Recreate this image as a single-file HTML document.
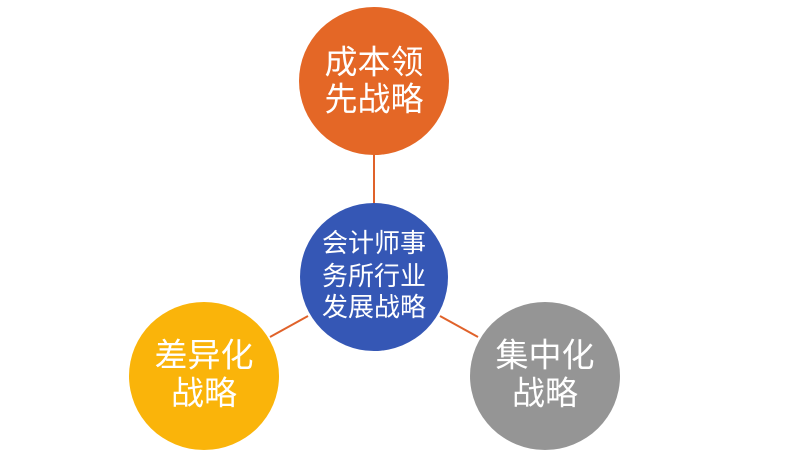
<!DOCTYPE html>
<html><head><meta charset="utf-8"><style>
html,body{margin:0;padding:0;background:#fff;}
body{width:800px;height:462px;overflow:hidden;position:relative;}
svg{position:absolute;left:0;top:0;}
text{font-family:"Liberation Sans","Noto Sans CJK SC",sans-serif;fill:#fff;text-anchor:middle;dominant-baseline:central;}
</style></head><body>
<svg width="800" height="462" viewBox="0 0 800 462">
<g stroke="#E0622A" stroke-width="2">
<line x1="374" y1="154" x2="374" y2="204"/>
<line x1="308" y1="316" x2="270" y2="337"/>
<line x1="440" y1="316" x2="478" y2="337"/>
</g>
<ellipse cx="374" cy="81" rx="75" ry="74" fill="#E46726"/>
<ellipse cx="374" cy="277" rx="74" ry="74" fill="#3557B5"/>
<ellipse cx="204" cy="376" rx="75" ry="74" fill="#FAB40A"/>
<ellipse cx="545" cy="376" rx="75" ry="74" fill="#959595"/>
<g font-size="33">
<text x="374" y="62">成本领</text>
<text x="374" y="99">先战略</text>
<text x="204" y="355">差异化</text>
<text x="204" y="393">战略</text>
<text x="545" y="355">集中化</text>
<text x="545" y="393">战略</text>
</g>
<g font-size="26">
<text x="374" y="243">会计师事</text>
<text x="374" y="276">务所行业</text>
<text x="374" y="307">发展战略</text>
</g>
</svg>
</body></html>
